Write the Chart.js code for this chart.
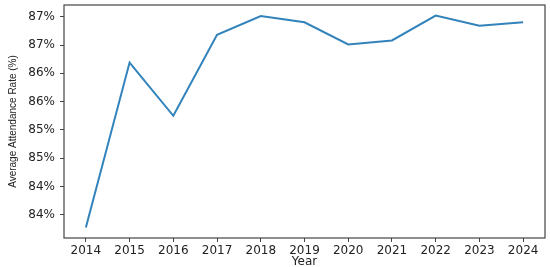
<!DOCTYPE html>
<html>
<head>
<meta charset="utf-8">
<script src="https://cdn.jsdelivr.net/npm/chart.js@4.4.1/dist/chart.umd.min.js"></script>
<style>
  html, body { margin: 0; padding: 0; background: #fff; }
  #wrap { width: 550px; height: 267px; }
</style>
</head>
<body>
<div id="wrap"><canvas id="attendanceChart" width="550" height="267"></canvas></div>
<script>
// valeurs
const years = ["2014", "2015", "2016", "2017", "2018", "2019", "2020", "2021", "2022", "2023", "2024"];
const attendance = [83.78, 86.69, 85.75, 87.18, 87.51, 87.40, 87.01, 87.08, 87.52, 87.34, 87.40];
const yTicks = [84.0, 84.5, 85.0, 85.5, 86.0, 86.5, 87.0, 87.5];

const frame = {
  id: "frame",
  afterDraw(chart) {
    const a = chart.chartArea;
    const c = chart.ctx;
    c.save();
    c.strokeStyle = "#444";
    c.lineWidth = 1.2;
    c.strokeRect(a.left, a.top, a.right - a.left, a.bottom - a.top);
    c.restore();
  }
};

const tickFont = { family: "DejaVu Sans", size: 12 };

new Chart(document.getElementById("attendanceChart").getContext("2d"), {
  type: "line",
  data: {
    labels: years,
    datasets: [{
      data: attendance,
      borderColor: "#3283bb",
      borderWidth: 2,
      pointRadius: 0,
      tension: 0,
      fill: false
    }]
  },
  options: {
    responsive: false,
    animation: false,
    layout: { padding: { top: 5, right: 5, left: 0, bottom: 0 } },
    plugins: { legend: { display: false }, tooltip: { enabled: false } },
    scales: {
      x: {
        offset: true,
        grid: { drawOnChartArea: false, drawTicks: true, tickLength: 4, color: "#444", offset: false },
        border: { display: false },
        ticks: { font: tickFont, color: "#222", padding: 2, maxRotation: 0, autoSkip: false },
        title: { display: true, text: "Year", font: { family: "DejaVu Sans", size: 12 }, color: "#222", padding: { top: 0, bottom: -2 } },
        afterFit: function(scale) {
          scale.height = 29;
          scale.paddingLeft = 0;
          scale.paddingRight = 0;
        }
      },
      y: {
        min: 83.594,
        max: 87.706,
        grid: { drawOnChartArea: false, drawTicks: true, tickLength: 4, color: "#444" },
        border: { display: false },
        afterBuildTicks: function(scale) {
          scale.ticks = yTicks.map(v => ({ value: v }));
        },
        ticks: {
          font: tickFont,
          color: "#222",
          padding: 5,
          callback: function(value) { return Math.floor(value + 1e-9) + "%"; }
        },
        title: { display: true, text: "Average Attendance Rate (%)", font: { family: "Liberation Sans", size: 10 }, color: "#222", padding: { top: 7, bottom: 0 } },
        afterFit: function(scale) {
          scale.width = 64;
          scale.paddingTop = 0;
          scale.paddingBottom = 0;
        }
      }
    }
  },
  plugins: [frame]
});
</script>
</body>
</html>
